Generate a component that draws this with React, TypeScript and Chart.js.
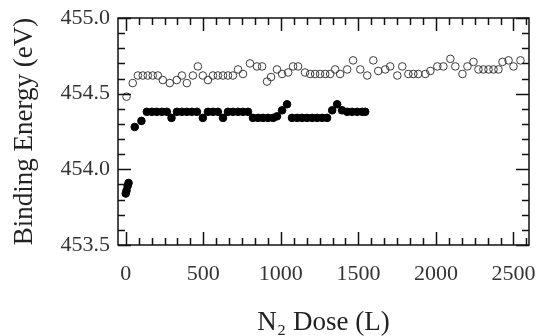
import { useEffect, useRef } from "react";
import { Chart, registerables } from "chart.js";

Chart.register(...registerables);

// Open circles (dose in L, binding energy in eV)
const openDose = [
  5, 45, 78, 110, 142, 174, 207, 239, 284, 329, 362, 394, 433, 465, 497, 530,
  562, 594, 627, 659, 691, 724, 756, 801, 846, 879, 911, 937, 975, 1008, 1047,
  1079, 1111, 1156, 1189, 1221, 1253, 1286, 1318, 1350, 1382, 1428, 1466, 1512,
  1557, 1596, 1628, 1673, 1705, 1751, 1783, 1822, 1854, 1886, 1932, 1964, 2009,
  2048, 2093, 2125, 2171, 2203, 2242, 2274, 2306, 2339, 2371, 2403, 2429, 2468,
  2500, 2545,
];
const openEnergy = [
  454.48, 454.57, 454.62, 454.62, 454.62, 454.62, 454.62, 454.59, 454.57, 454.59,
  454.62, 454.57, 454.62, 454.68, 454.62, 454.59, 454.62, 454.62, 454.62, 454.62,
  454.62, 454.66, 454.63, 454.7, 454.68, 454.68, 454.58, 454.61, 454.66, 454.63,
  454.64, 454.68, 454.68, 454.64, 454.63, 454.63, 454.63, 454.63, 454.63, 454.66,
  454.63, 454.66, 454.72, 454.66, 454.62, 454.72, 454.65, 454.66, 454.68, 454.62,
  454.68, 454.63, 454.63, 454.63, 454.63, 454.65, 454.68, 454.68, 454.73, 454.68,
  454.63, 454.68, 454.71, 454.66, 454.66, 454.66, 454.66, 454.66, 454.71, 454.72,
  454.68, 454.72,
];

// Filled circles
const filledDose = [
  0, 5, 12, 18, 58, 101, 136, 168, 200, 233, 265, 295, 330, 362, 394, 426, 459,
  497, 530, 562, 594, 627, 659, 691, 724, 756, 788, 820, 853, 885, 917, 950, 975,
  1008, 1040, 1072, 1105, 1137, 1169, 1202, 1234, 1266, 1298, 1331, 1363, 1395,
  1428, 1460, 1492, 1525, 1544,
];
const filledEnergy = [
  453.84, 453.86, 453.89, 453.91, 454.28, 454.32, 454.38, 454.38, 454.38, 454.38,
  454.38, 454.34, 454.38, 454.38, 454.38, 454.38, 454.38, 454.34, 454.38, 454.38,
  454.38, 454.34, 454.38, 454.38, 454.38, 454.38, 454.38, 454.34, 454.34, 454.34,
  454.34, 454.34, 454.35, 454.39, 454.43, 454.34, 454.34, 454.34, 454.34, 454.34,
  454.34, 454.34, 454.34, 454.39, 454.43, 454.39, 454.38, 454.38, 454.38, 454.38,
  454.38,
];

const xTickValues = [0, 500, 1000, 1500, 2000, 2500];
const yTickValues = [453.5, 454.0, 454.5, 455.0];
const xMinorPerMajor = 6;
const yMinorPerMajor = 5;
const xTitle = "N\u2082 Dose (L)";
const yTitle = "Binding Energy (eV)";

const FONT = "'Liberation Serif', 'DejaVu Serif', serif";

const frameTicks = {
  id: "frameTicks",
  afterDatasetsDraw(chart: any) {
    const { ctx, chartArea: a, scales } = chart;
    const xs = scales.x;
    const ys = scales.y;
    ctx.save();
    ctx.strokeStyle = "#111";
    ctx.lineWidth = 1.5;
    ctx.strokeRect(a.left, a.top, a.right - a.left, a.bottom - a.top);
    ctx.beginPath();
    const xStep = (xTickValues[1] - xTickValues[0]) / xMinorPerMajor;
    for (let i = 0; ; i++) {
      const v = xTickValues[0] + i * xStep;
      if (v > xs.max) break;
      const px = Math.round(xs.getPixelForValue(v)) + 0.5;
      const len = i % xMinorPerMajor === 0 ? 13 : 7;
      ctx.moveTo(px, a.bottom);
      ctx.lineTo(px, a.bottom - len);
      ctx.moveTo(px, a.top);
      ctx.lineTo(px, a.top + len);
    }
    const yStep = (yTickValues[1] - yTickValues[0]) / yMinorPerMajor;
    for (let i = 0; ; i++) {
      const v = yTickValues[0] + i * yStep;
      if (v > ys.max + 1e-6) break;
      const py = Math.round(ys.getPixelForValue(v)) + 0.5;
      const len = i % yMinorPerMajor === 0 ? 13 : 7;
      ctx.moveTo(a.left, py);
      ctx.lineTo(a.left + len, py);
      ctx.moveTo(a.right, py);
      ctx.lineTo(a.right - len, py);
    }
    ctx.stroke();
    ctx.restore();
  },
};

export default function App() {
  const ref = useRef<HTMLCanvasElement | null>(null);

  useEffect(() => {
    if (!ref.current) return;
    const chart = new Chart(ref.current, {
      type: "scatter",
      data: {
        datasets: [
          {
            label: "open",
            data: openDose.map((d, i) => ({ x: d, y: openEnergy[i] })),
            pointStyle: "circle",
            pointRadius: 3.8,
            pointBorderWidth: 1,
            pointBorderColor: "#3a3a3a",
            pointBackgroundColor: "rgba(255,255,255,0)",
          },
          {
            label: "filled",
            data: filledDose.map((d, i) => ({ x: d, y: filledEnergy[i] })),
            pointStyle: "circle",
            pointRadius: 3.8,
            pointBorderWidth: 1,
            pointBorderColor: "#000",
            pointBackgroundColor: "#000",
          },
        ],
      },
      options: {
        animation: false,
        responsive: false,
        events: [],
        layout: { padding: { left: 0, right: 7, top: 18, bottom: 0 } },
        plugins: {
          legend: { display: false },
          tooltip: { enabled: false },
        },
        scales: {
          x: {
            type: "linear",
            min: -50,
            max: 2600,
            afterFit: (s: any) => {
              s.height = 91;
              s.paddingLeft = 0;
              s.paddingRight = 0;
            },
            afterBuildTicks: (s: any) => {
              s.ticks = xTickValues.map((v) => ({ value: v }));
            },
            grid: { display: false, drawTicks: false },
            border: { display: false },
            ticks: {
              autoSkip: false,
              maxRotation: 0,
              padding: 16,
              color: "#333",
              font: { family: FONT, size: 22 },
              callback: (v: any) => String(v),
            },
            title: {
              display: true,
              text: xTitle,
              color: "#222",
              font: { family: FONT, size: 27 },
              padding: { top: 0, bottom: -3 },
            },
          },
          y: {
            type: "linear",
            min: 453.5,
            max: 455.0,
            afterFit: (s: any) => {
              s.width = 118;
              s.paddingTop = 0;
              s.paddingBottom = 0;
            },
            afterBuildTicks: (s: any) => {
              s.ticks = yTickValues.map((v) => ({ value: v }));
            },
            grid: { display: false, drawTicks: false },
            border: { display: false },
            ticks: {
              autoSkip: false,
              padding: 8,
              color: "#333",
              font: { family: FONT, size: 22 },
              callback: (v: any) => Number(v).toFixed(1),
            },
            title: {
              display: true,
              text: yTitle,
              color: "#222",
              font: { family: FONT, size: 27 },
              padding: { top: 9, bottom: 0 },
            },
          },
        },
      },
      plugins: [frameTicks],
    });
    return () => chart.destroy();
  }, []);

  return (
    <div style={{ position: "absolute", left: 0, top: 0, width: 536, height: 336, background: "#fff" }}>
      <canvas ref={ref} width={536} height={336} style={{ display: "block" }} />
    </div>
  );
}
